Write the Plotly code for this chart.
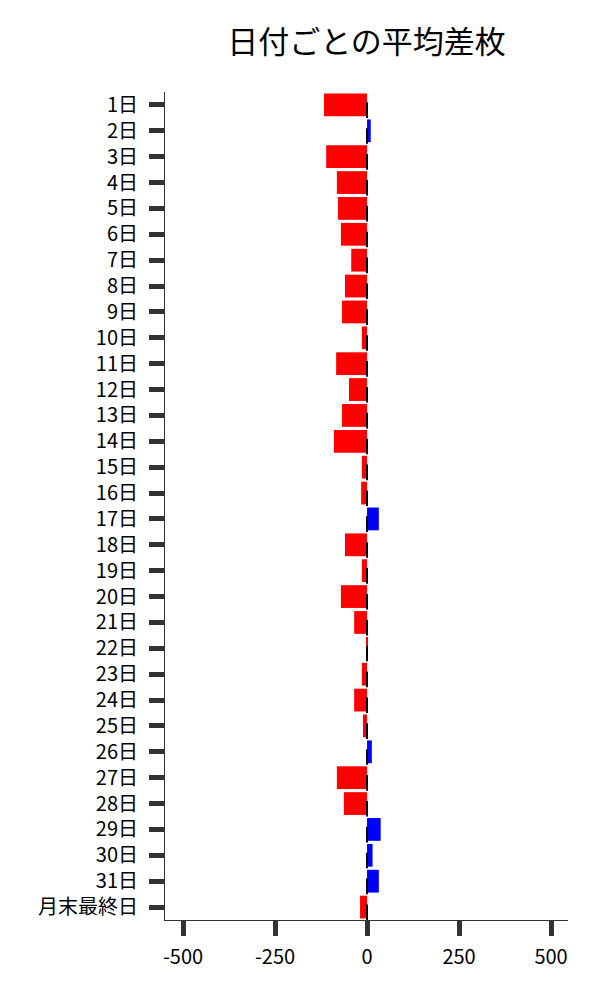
import plotly.graph_objects as go

categories = [f"{d}日" for d in range(1, 32)] + ["月末最終日"]
avg_diff = [-117, 10, -111, -82, -79, -71, -43, -60, -68, -14,
            -84, -49, -68, -90, -14, -16, 32, -60, -14, -71,
            -35, -2, -14, -35, -11, 13, -82, -63, 37, 15,
            32, -19]
x_ticks = [-500, -250, 0, 250, 500]

colors = ["#0000ff" if v > 0 else "#ff0000" for v in avg_diff]

FONT = "Noto Sans CJK JP"
ZERO_MARK_HALF = 2.5  # half thickness (data units) of the black zero marks

fig = go.Figure()
fig.add_trace(go.Bar(
    y=categories, x=avg_diff, orientation="h",
    marker=dict(color=colors, line=dict(width=0)),
    width=0.88, offset=-0.44, hoverinfo="skip", showlegend=False,
))
fig.add_trace(go.Bar(
    y=categories, x=[2 * ZERO_MARK_HALF] * len(categories),
    base=[-ZERO_MARK_HALF] * len(categories), orientation="h",
    marker=dict(color="#000000", line=dict(width=0)),
    width=0.6, offset=-0.1, hoverinfo="skip", showlegend=False,
))

fig.update_layout(
    width=600, height=1000,
    margin=dict(l=157, r=40, t=84, b=88, autoexpand=False),
    paper_bgcolor="white", plot_bgcolor="white",
    barmode="overlay",
    font=dict(family=FONT, size=20, color="#000000"),
    title=dict(text="日付ごとの平均差枚", x=358.5 / 600, xanchor="center",
               y=1 - 34 / 1000, yanchor="middle",
               font=dict(family=FONT, size=31, color="#000000")),
)
fig.update_xaxes(
    range=[-549, 546], tickvals=x_ticks, ticktext=[str(v) for v in x_ticks],
    showgrid=False, zeroline=False,
    showline=True, linecolor="#333333", linewidth=1,
    ticks="outside", ticklen=15, tickwidth=5, tickcolor="#333333",
    ticklabelstandoff=4,
    tickfont=dict(family=FONT, size=20, color="#000000"),
)
fig.update_yaxes(
    type="category", categoryorder="array", categoryarray=categories,
    range=[len(categories) - 0.5, -0.5],
    showgrid=False, zeroline=False,
    showline=True, linecolor="#333333", linewidth=1,
    ticks="outside", ticklen=15, tickwidth=5, tickcolor="#333333",
    ticklabelstandoff=7,
    tickfont=dict(family=FONT, size=20, color="#000000"),
)

fig.write_html("out.html")
